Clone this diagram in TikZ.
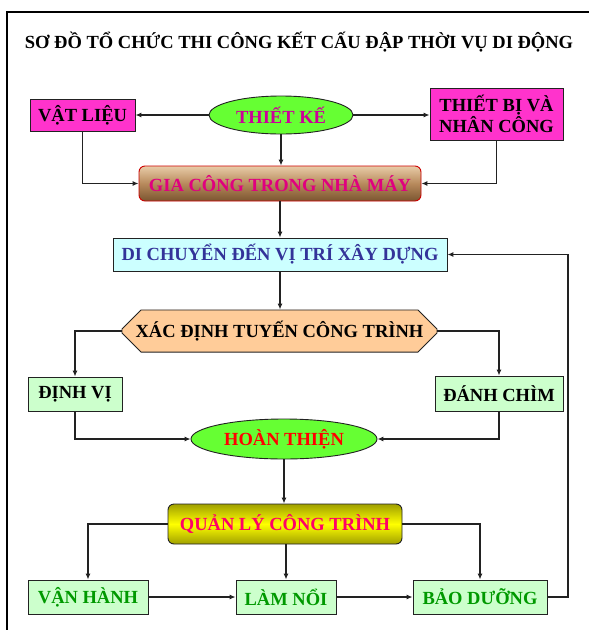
\documentclass[tikz,border=0pt]{standalone}
\usepackage{fontspec}
\setmainfont{Liberation Serif}
\usetikzlibrary{shapes.geometric,shapes.misc,arrows.meta}
\definecolor{mag}{HTML}{FF33CC}
\definecolor{lgreen}{HTML}{66FF33}
\definecolor{pale}{HTML}{CCFFCC}
\definecolor{cyanl}{HTML}{CCFFFF}
\definecolor{peach}{HTML}{FFCC99}
\definecolor{txmag}{HTML}{CC0099}
\definecolor{txpink}{HTML}{E0007F}
\definecolor{txblue}{HTML}{333399}
\definecolor{txgreen}{HTML}{009900}
\definecolor{txcrim}{HTML}{FF0066}
\definecolor{ln}{HTML}{222222}
\definecolor{tan1}{HTML}{E8CCA8}
\definecolor{tan2}{HTML}{B88A5C}
\definecolor{tan3}{HTML}{7A5530}
\definecolor{yel1}{HTML}{A0A000}
\definecolor{yel2}{HTML}{FFFF00}
\tikzset{
  base/.style={inner sep=0pt, align=center, font=\bfseries\fontsize{18.5}{19}\selectfont, draw=ln, line width=0.9pt},
  magbox/.style={base, rectangle, fill=mag, text=black},
  ell/.style={base, ellipse, fill=lgreen},
  palebox/.style={base, rectangle, fill=pale},
  conn/.style={draw=ln, line width=1.1pt, -{Latex[length=6pt,width=5pt]}},
  plain/.style={draw=ln, line width=1.1pt}
}
\begin{document}
\begin{tikzpicture}[x=1pt,y=-1pt]
\useasboundingbox (0,0) rectangle (589,630);
\fill[white] (0,0) rectangle (589,630);
\draw[line width=2pt] (7,640) -- (7,12) -- (600,12);
\node (title) at (299,42) {\bfseries\fontsize{18.5}{19}\selectfont SƠ ĐỒ TỔ CHỨC THI CÔNG KẾT CẤU ĐẬP THỜI VỤ DI ĐỘNG};
\node[magbox, minimum width=105pt, minimum height=32pt] (vat) at (82.5,115) {VẬT LIỆU};
\node[ell, text=txmag, minimum width=144pt, minimum height=38pt] (tk) at (281,115) {THIẾT KẾ};
\node[magbox, minimum width=133pt, minimum height=52pt] (tb) at (496.5,114) {THIẾT BỊ VÀ\\NHÂN CÔNG};
\node[base, rectangle, rounded corners=6pt, draw=red!80!black, top color=tan1, bottom color=tan3, middle color=tan2, text=txpink, minimum width=282pt, minimum height=35pt] (gc) at (280,183.5) {GIA CÔNG TRONG NHÀ MÁY};
\node[base, rectangle, fill=cyanl, text=txblue, minimum width=334pt, minimum height=33pt] (dc) at (280,254.5) {DI CHUYỂN ĐẾN VỊ TRÍ XÂY DỰNG};
\node[base, chamfered rectangle, chamfered rectangle xsep=8pt, chamfered rectangle ysep=11pt, fill=peach, text=black, minimum width=315pt, minimum height=42pt] (xd) at (279.5,331) {XÁC ĐỊNH TUYẾN CÔNG TRÌNH};
\node[palebox, text=black, minimum width=94pt, minimum height=34pt] (dv) at (75,394) {ĐỊNH VỊ};
\node[palebox, text=black, minimum width=128pt, minimum height=35pt] (dch) at (499,393.5) {ĐÁNH CHÌM};
\node[ell, text=red, minimum width=186pt, minimum height=40pt] (ht) at (284,439) {HOÀN THIỆN};
\node[base, rectangle, rounded corners=6pt, top color=yel1, bottom color=yel1, middle color=yel2, text=txcrim, minimum width=234pt, minimum height=40pt] (ql) at (285,524) {QUẢN LÝ CÔNG TRÌNH};
\node[palebox, text=txgreen, minimum width=120pt, minimum height=34pt] (vh) at (88,597) {VẬN HÀNH};
\node[palebox, text=txgreen, minimum width=100pt, minimum height=34pt] (lm) at (286,597) {LÀM NỔI};
\node[palebox, text=txgreen, minimum width=134pt, minimum height=34pt] (bd) at (480,597) {BẢO DƯỠNG};
% connectors
\draw[conn] (tk.west) -- (vat.east);
\draw[conn] (tk.east) -- (tk.east -| tb.west);
\draw[conn] (tk.south) -- (gc.north -| tk.south);
\draw[conn] (vat.south) |- (gc.west);
\draw[conn] (tb.south) |- (gc.east);
\draw[conn] (gc.south) -- (dc.north -| gc.south);
\draw[conn] (dc.south) -- (xd.north -| dc.south);
\draw[conn] (xd.west) -| (dv.north);
\draw[conn] (xd.east) -| (dch.north);
\draw[conn] (dv.south) |- (ht.west);
\draw[conn] (dch.south) |- (ht.east);
\draw[conn] (ht.south) -- (ql.north -| ht.south);
\draw[conn] (ql.west) -| (vh.north);
\draw[conn] (ql.south -| lm.north) -- (lm.north);
\draw[conn] (ql.east) -| (bd.north);
\draw[conn] (vh.east) -- (lm.west);
\draw[conn] (lm.east) -- (bd.west);
\coordinate (r1) at (568,597);
\coordinate (r2) at (568,254.5);
\draw[conn] (bd.east) -- (r1) -- (r2) -- (dc.east);
\end{tikzpicture}
\end{document}
